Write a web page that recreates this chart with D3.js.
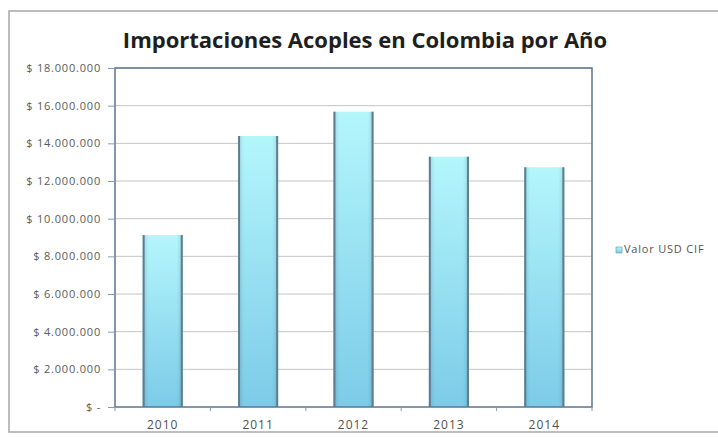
<!DOCTYPE html>
<html>
<head>
<meta charset="utf-8">
<script src="https://cdn.jsdelivr.net/npm/d3@7"></script>
<style>
  body { margin: 0; background: #fff; }
  text { font-family: "Open Sans", "Liberation Sans", sans-serif; }
</style>
</head>
<body>
<svg id="chart"></svg>
<script>
/* DATA */
const years = ["2010", "2011", "2012", "2013", "2014"];
const valores = [9130000, 14390000, 15680000, 13290000, 12730000];
const yTicks = [0, 2000000, 4000000, 6000000, 8000000, 10000000, 12000000, 14000000, 16000000, 18000000];
const seriesName = "Valor USD CIF";
const title = "Importaciones Acoples en Colombia por Año";

/* CONSTANTS */
const width = 718, height = 437;
const margin = { top: 68, right: 126, bottom: 30, left: 115 };

const svg = d3.select("#chart")
  .attr("width", width)
  .attr("height", height);

// outer chart frame
svg.append("rect")
  .attr("x", 9).attr("y", 11)
  .attr("width", width + 10).attr("height", 421)
  .attr("fill", "#fff")
  .attr("stroke", "#a8a8a8")
  .attr("stroke-width", 1.5);

// bar gradient
const defs = svg.append("defs");
const grad = defs.append("linearGradient")
  .attr("id", "barGrad")
  .attr("x1", 0).attr("y1", 0).attr("x2", 0).attr("y2", 1);
grad.append("stop").attr("offset", "0%").attr("stop-color", "#b4f6fc");
grad.append("stop").attr("offset", "100%").attr("stop-color", "#7ccbe8");

const hgrad = defs.append("linearGradient")
  .attr("id", "barEdge")
  .attr("x1", 0).attr("y1", 0).attr("x2", 1).attr("y2", 0);
hgrad.append("stop").attr("offset", "0%").attr("stop-color", "#000").attr("stop-opacity", 0.12);
hgrad.append("stop").attr("offset", "15%").attr("stop-color", "#000").attr("stop-opacity", 0);
hgrad.append("stop").attr("offset", "85%").attr("stop-color", "#000").attr("stop-opacity", 0);
hgrad.append("stop").attr("offset", "100%").attr("stop-color", "#000").attr("stop-opacity", 0.12);

/* SCALES */
const xScale = d3.scaleBand()
  .domain(years)
  .range([margin.left, width - margin.right])
  .paddingInner(0.58)
  .paddingOuter(0.29);

const yScale = d3.scaleLinear()
  .domain([0, 18000000])
  .range([height - margin.bottom, margin.top]);

// gridlines
svg.append("g")
  .selectAll("line")
  .data(yTicks.slice(1))
  .join("line")
  .attr("x1", margin.left).attr("x2", width - margin.right)
  .attr("y1", d => yScale(d)).attr("y2", d => yScale(d))
  .attr("stroke", "#c4c4c4")
  .attr("stroke-width", 1);

// bars
const bars = svg.append("g")
  .selectAll("g")
  .data(years.map((y, i) => ({ year: y, value: valores[i] })))
  .join("g");

bars.append("rect")
  .attr("x", d => xScale(d.year))
  .attr("y", d => yScale(d.value))
  .attr("width", xScale.bandwidth())
  .attr("height", d => yScale(0) - yScale(d.value))
  .attr("fill", "url(#barGrad)");

bars.append("rect")
  .attr("x", d => xScale(d.year))
  .attr("y", d => yScale(d.value))
  .attr("width", xScale.bandwidth())
  .attr("height", d => yScale(0) - yScale(d.value))
  .attr("fill", "url(#barEdge)");

bars.append("line")
  .attr("x1", d => xScale(d.year) + 1).attr("x2", d => xScale(d.year) + 1)
  .attr("y1", d => yScale(d.value)).attr("y2", yScale(0))
  .attr("stroke", "#5f7d90").attr("stroke-width", 2);
bars.append("line")
  .attr("x1", d => xScale(d.year) + xScale.bandwidth() - 1).attr("x2", d => xScale(d.year) + xScale.bandwidth() - 1)
  .attr("y1", d => yScale(d.value)).attr("y2", yScale(0))
  .attr("stroke", "#5f7d90").attr("stroke-width", 2);

// plot frame
svg.append("rect")
  .attr("x", margin.left).attr("y", margin.top)
  .attr("width", width - margin.right - margin.left)
  .attr("height", height - margin.bottom - margin.top)
  .attr("fill", "none")
  .attr("stroke", "#5a7594")
  .attr("stroke-width", 1.5);

/* AXES */
const fmt = d => d === 0 ? "$ -" : "$ " + d3.format(",")(d).replace(/,/g, ".");

const yAxis = d3.axisLeft(yScale)
  .tickValues(yTicks)
  .tickFormat(fmt)
  .tickSize(7)
  .tickPadding(7);
svg.append("g")
  .attr("transform", `translate(${margin.left},0)`)
  .call(yAxis)
  .call(g => g.select(".domain").remove())
  .call(g => g.selectAll(".tick line").attr("stroke", "#8a9bb0"))
  .call(g => g.selectAll("text")
    .attr("fill", "#5a5a5a")
    .attr("font-size", 11)
    .attr("letter-spacing", 0.8));

const xAxis = d3.axisBottom(xScale)
  .tickSize(0)
  .tickPadding(13);
svg.append("g")
  .attr("transform", `translate(0,${height - margin.bottom})`)
  .call(xAxis)
  .call(g => g.select(".domain").remove())
  .call(g => g.selectAll("text")
    .attr("fill", "#505050")
    .attr("font-size", 12)
    .attr("letter-spacing", 1));

// small ticks between categories
const step = xScale.step();
svg.append("g")
  .selectAll("line")
  .data(d3.range(years.length + 1))
  .join("line")
  .attr("x1", i => margin.left + i * step).attr("x2", i => margin.left + i * step)
  .attr("y1", height - margin.bottom).attr("y2", height - margin.bottom + 4)
  .attr("stroke", "#8a9bb0");

/* TITLE */
svg.append("text")
  .attr("x", 365).attr("y", 48)
  .attr("text-anchor", "middle")
  .attr("font-family", "Lato, 'Open Sans', sans-serif")
  .attr("font-size", 22)
  .attr("font-weight", "bold")
  .attr("fill", "#1e1e1e")
  .text(title);

/* LEGEND */
const legend = svg.append("g").attr("transform", "translate(616,253)");
legend.append("rect")
  .attr("x", 0).attr("y", -6).attr("width", 6).attr("height", 6)
  .attr("fill", "url(#barGrad)")
  .attr("stroke", "#5f9a9a").attr("stroke-width", 0.6);
legend.append("text")
  .attr("x", 8).attr("y", 0)
  .attr("font-size", 11)
  .attr("letter-spacing", 0.8)
  .attr("fill", "#555")
  .text(seriesName);
</script>
</body>
</html>
